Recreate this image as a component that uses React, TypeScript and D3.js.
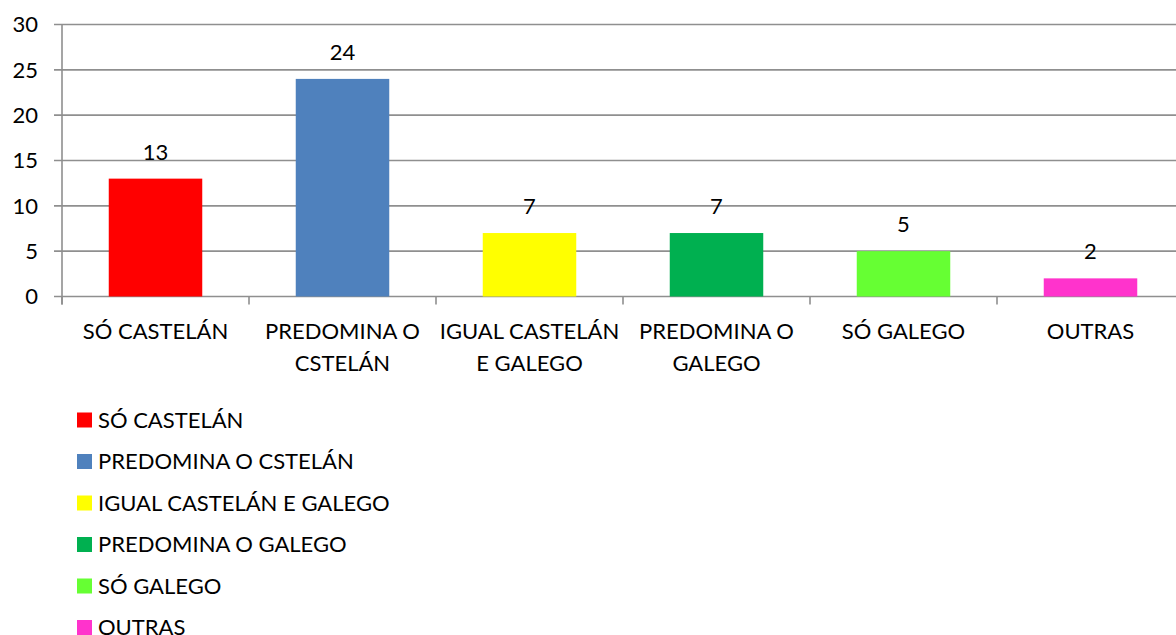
import React from "react";
import * as d3 from "d3";
import { useRef, useEffect } from "react";

const categories = [
  "SÓ CASTELÁN",
  "PREDOMINA O CSTELÁN",
  "IGUAL CASTELÁN E GALEGO",
  "PREDOMINA O GALEGO",
  "SÓ GALEGO",
  "OUTRAS",
];
const tickLines = [
  ["SÓ CASTELÁN"],
  ["PREDOMINA O", "CSTELÁN"],
  ["IGUAL CASTELÁN", "E GALEGO"],
  ["PREDOMINA O", "GALEGO"],
  ["SÓ GALEGO"],
  ["OUTRAS"],
];
const values = [13, 24, 7, 7, 5, 2];
const colors = ["#ff0000", "#4f81bd", "#ffff00", "#00b050", "#66ff33", "#ff33cc"];
const yTicks = [0, 5, 10, 15, 20, 25, 30];

export default function App() {
  const chartRef = useRef<SVGSVGElement | null>(null);

  useEffect(() => {
    const width = 1176;
    const height = 635;
    const font = "Lato, 'Open Sans', sans-serif";
    const fs = 22;
    const grid = "#8f8f8f";

    const svg = d3.select(chartRef.current);
    svg.selectAll("*").remove();
    svg.attr("width", width).attr("height", height);

    const left = 62;
    const step = 187;
    const x = d3
      .scaleBand<string>()
      .domain(categories)
      .range([left, left + step * categories.length])
      .paddingInner(0.5)
      .paddingOuter(0.25);
    const y = d3.scaleLinear().domain([0, 30]).range([296.5, 24.5]);

    // gridlines + y tick marks + labels
    const g = svg.append("g");
    yTicks.forEach((t) => {
      g.append("line")
        .attr("x1", 54)
        .attr("x2", width)
        .attr("y1", y(t))
        .attr("y2", y(t))
        .attr("stroke", grid)
        .attr("stroke-width", 1.6);
      g.append("text")
        .attr("x", 38)
        .attr("y", y(t))
        .attr("dy", "0.35em")
        .attr("text-anchor", "end")
        .attr("font-family", font)
        .attr("font-size", fs)
        .attr("fill", "#000")
        .text(t);
    });

    // y axis line
    g.append("line")
      .attr("x1", left)
      .attr("x2", left)
      .attr("y1", y(30))
      .attr("y2", y(0) + 8)
      .attr("stroke", grid)
      .attr("stroke-width", 1.6);

    // category ticks
    d3.range(categories.length + 1).forEach((i) => {
      const xx = left + i * step;
      g.append("line")
        .attr("x1", xx)
        .attr("x2", xx)
        .attr("y1", y(0))
        .attr("y2", y(0) + 8)
        .attr("stroke", grid)
        .attr("stroke-width", 1.6);
    });

    // bars
    svg
      .append("g")
      .selectAll("rect")
      .data(values)
      .enter()
      .append("rect")
      .attr("x", (d, i) => x(categories[i])!)
      .attr("width", x.bandwidth())
      .attr("y", (d) => y(d))
      .attr("height", (d) => y(0) - y(d))
      .attr("fill", (d, i) => colors[i]);

    // value labels
    svg
      .append("g")
      .selectAll("text")
      .data(values)
      .enter()
      .append("text")
      .attr("x", (d, i) => x(categories[i])! + x.bandwidth() / 2)
      .attr("y", (d) => y(d) - 19)
      .attr("text-anchor", "middle")
      .attr("font-family", font)
      .attr("font-size", fs)
      .attr("fill", "#000")
      .text((d) => d);

    // category labels
    tickLines.forEach((lines, i) => {
      const cx = x(categories[i])! + x.bandwidth() / 2;
      const t = svg
        .append("text")
        .attr("text-anchor", "middle")
        .attr("font-family", font)
        .attr("font-size", fs)
        .attr("fill", "#000");
      lines.forEach((ln, j) => {
        t.append("tspan")
          .attr("x", cx)
          .attr("y", 339 + j * 32)
          .text(ln);
      });
    });

    // legend
    const lg = svg.append("g");
    categories.forEach((c, i) => {
      const cy = 420 + i * 41.5;
      lg.append("rect")
        .attr("x", 77)
        .attr("y", cy - 7.5)
        .attr("width", 15)
        .attr("height", 15)
        .attr("fill", colors[i]);
      lg.append("text")
        .attr("x", 98)
        .attr("y", cy)
        .attr("dy", "0.35em")
        .attr("font-family", font)
        .attr("font-size", fs)
        .attr("fill", "#000")
        .text(c);
    });
  }, []);

  return (
    <svg
      ref={chartRef}
      style={{ position: "absolute", left: 0, top: 0, background: "#fff" }}
    />
  );
}
